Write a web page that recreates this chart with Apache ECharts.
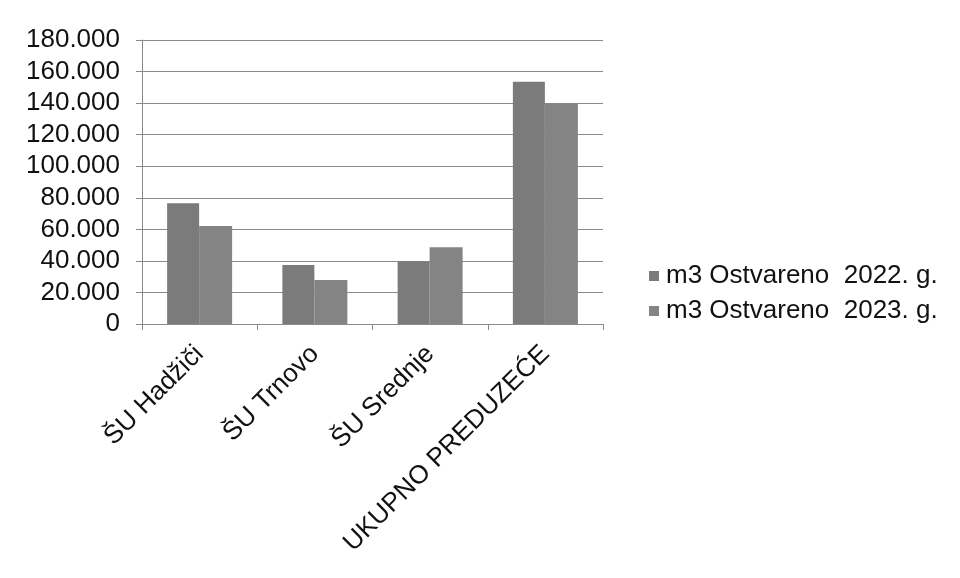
<!DOCTYPE html>
<html>
<head>
<meta charset="utf-8">
<script src="https://cdn.jsdelivr.net/npm/echarts@6/dist/echarts.min.js"></script>
<style>html,body{margin:0;padding:0;background:#fff}#c{width:960px;height:578px}</style>
</head>
<body>
<div id="c"></div>
<script>
const categories = ['ŠU Hadžiči', 'ŠU Trnovo', 'ŠU Srednje', 'UKUPNO PREDUZEĆE'];
const seriesNames = ['m3 Ostvareno  2022. g.', 'm3 Ostvareno  2023. g.'];
const values2022 = [76500, 37400, 39700, 153500];
const values2023 = [62100, 27900, 48600, 139800];
const yTicks = [0, 20000, 40000, 60000, 80000, 100000, 120000, 140000, 160000, 180000];

const fmt = v => v === 0 ? '0' : String(v).replace(/\B(?=(\d{3})+(?!\d))/g, '.');
const font = '"Liberation Sans", Arial, sans-serif';

const chart = echarts.init(document.getElementById('c'), null, {renderer: 'canvas'});
chart.setOption({
  animation: false,
  backgroundColor: '#fff',
  grid: {left: 142, right: 357, top: 40, bottom: 254, containLabel: false},
  legend: {
    orient: 'vertical',
    left: 644,
    top: 258,
    itemWidth: 10,
    itemHeight: 10,
    itemGap: 9,
    icon: 'rect',
    textStyle: {fontFamily: font, fontSize: 26, color: '#111', padding: [0, 0, 0, 2]},
    data: seriesNames
  },
  xAxis: {
    type: 'category',
    data: categories,
    axisLine: {lineStyle: {color: '#8a8a8a', width: 1}},
    axisTick: {show: true, alignWithLabel: false, length: 6, lineStyle: {color: '#8a8a8a'}},
    axisLabel: {rotate: 45, margin: 26, fontFamily: font, fontSize: 26, color: '#111', interval: 0},
    boundaryGap: true
  },
  yAxis: {
    type: 'value',
    min: yTicks[0],
    max: yTicks[yTicks.length - 1],
    interval: 20000,
    axisLine: {show: true, lineStyle: {color: '#8a8a8a', width: 1}},
    axisTick: {show: true, length: 6, lineStyle: {color: '#8a8a8a'}},
    splitLine: {lineStyle: {color: '#8a8a8a', width: 1}},
    axisLabel: {formatter: fmt, fontFamily: font, fontSize: 26, color: '#111', margin: 22}
  },
  series: [
    {name: seriesNames[0], type: 'bar', data: values2022, barWidth: 32, barGap: '0%', itemStyle: {color: '#7b7b7b'}},
    {name: seriesNames[1], type: 'bar', data: values2023, barWidth: 33, barGap: '0%', itemStyle: {color: '#848484'}}
  ]
});
</script>
</body>
</html>
